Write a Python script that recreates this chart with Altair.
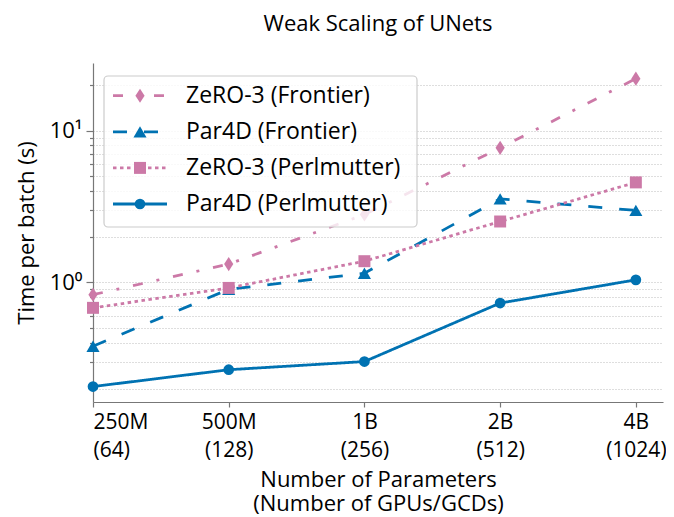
import json
import altair as alt
import pandas as pd

# ---- data ----
x_params = ["250M", "500M", "1B", "2B", "4B"]
x_gpus = ["(64)", "(128)", "(256)", "(512)", "(1024)"]
x_index = [0, 1, 2, 3, 4]

series = ["ZeRO-3 (Frontier)", "Par4D (Frontier)", "ZeRO-3 (Perlmutter)", "Par4D (Perlmutter)"]
zero3_frontier = [0.83, 1.32, 2.8, 7.7, 22.0]
par4d_frontier = [0.38, 0.90, 1.15, 3.55, 2.98]
zero3_perlmutter = [0.68, 0.92, 1.38, 2.52, 4.56]
par4d_perlmutter = [0.206, 0.266, 0.301, 0.731, 1.04]
values = [zero3_frontier, par4d_frontier, zero3_perlmutter, par4d_perlmutter]

y_grid_values = [0.2, 0.3, 0.4, 0.5, 0.6, 0.7, 0.8, 0.9, 1, 2, 3, 4, 5, 6, 7, 8, 9, 10, 20]

# ---- styles ----
colors = ["#cc79a7", "#0072b2", "#cc79a7", "#0072b2"]
dashes = [[10, 14, 3, 14], [14, 17], [3.5, 3.5], [1, 0]]
thin_diamond = "M0,-1L0.65,0L0,1L-0.65,0Z"
shapes = [thin_diamond, "triangle-up", "square", "circle"]
sizes = [200, 115, 95, 75]
FONT = "Open Sans"

rows = []
for s, vals in zip(series, values):
    for i, v in zip(x_index, vals):
        rows.append({"series": s, "x": i, "t": v})
df = pd.DataFrame(rows)
legend_df = pd.DataFrame({"series": series})
box_df = pd.DataFrame({"k": [0]})

color_enc = alt.Color("series:N", scale=alt.Scale(domain=series, range=colors), legend=None)
dash_enc = alt.StrokeDash("series:N", scale=alt.Scale(domain=series, range=dashes), legend=None)
shape_enc = alt.Shape("series:N", scale=alt.Scale(domain=series, range=shapes), legend=None)
size_enc = alt.Size("series:N", scale=alt.Scale(domain=series, range=sizes), legend=None)

label_expr = f"[{json.dumps(x_params)}[datum.value], {json.dumps(x_gpus)}[datum.value]]"

x_enc = alt.X(
    "x:Q",
    scale=alt.Scale(domain=[0, 4.2], nice=False, zero=False),
    axis=alt.Axis(
        values=x_index,
        labelExpr=label_expr,
        title=["Number of Parameters", "(Number of GPUs/GCDs)"],
        grid=False,
        tickSize=5,
        labelPadding=4,
        labelLineHeight=28,
        labelFontSize=21,
        titleFontSize=22,
        titleLineHeight=24,
        titlePadding=9,
        titleFontWeight="normal",
    ),
)
y_enc = alt.Y(
    "t:Q",
    scale=alt.Scale(type="log", domain=[0.163, 27.9], nice=False),
    axis=alt.Axis(
        values=y_grid_values,
        labelExpr="datum.value == 1 ? '10⁰' : (datum.value == 10 ? '10¹' : '')",
        labelOverlap=False,
        title="Time per batch (s)",
        tickSize={"condition": {"test": "datum.value == 1 || datum.value == 10", "value": 7}, "value": 3.5},
        labelPadding=4,
        labelFontSize=22,
        titleFontSize=22,
        titleFontWeight="normal",
        titlePadding=11,
        grid=True,
        gridDash=[1, 2],
        gridColor="#b5b5b5",
        gridWidth=0.9,
    ),
)

base = alt.Chart(df)
lines = base.mark_line(strokeWidth=2.8).encode(x=x_enc, y=y_enc, color=color_enc, strokeDash=dash_enc)
points = base.mark_point(filled=True, opacity=1).encode(
    x="x:Q", y="t:Q", color=color_enc, shape=shape_enc, size=size_enc
)

# ---- legend ----
box = alt.Chart(box_df).mark_rect(
    fill="white", fillOpacity=0.8, stroke="#cccccc", strokeWidth=1.2, cornerRadius=4
).encode(x=alt.value(11), x2=alt.value(324), y=alt.value(13), y2=alt.value(164))

leg_y = alt.Y("series:N", scale=alt.Scale(type="point", domain=series, range=[32.7, 141], padding=0), axis=None)
leg_base = alt.Chart(legend_df)
leg_lines = leg_base.mark_rule(strokeWidth=2.8).encode(
    x=alt.value(20), x2=alt.value(74), y=leg_y, color=color_enc, strokeDash=dash_enc
)
leg_pts = leg_base.mark_point(filled=True, opacity=1).encode(
    x=alt.value(47), y=leg_y, color=color_enc, shape=shape_enc, size=size_enc
)
leg_text = leg_base.mark_text(align="left", baseline="middle", fontSize=23, font=FONT, color="black").encode(
    x=alt.value(93), y=leg_y, text="series:N"
)
legend_layer = alt.layer(leg_lines, leg_pts, leg_text)

data_layer = alt.layer(lines, points)

chart = (
    alt.layer(data_layer, box, legend_layer)
    .resolve_scale(y="independent")
    .properties(
        width=570,
        height=339,
        autosize=alt.AutoSizeParams(type="none"),
        padding={"left": 85, "top": 55, "right": 3, "bottom": 113},
        title=alt.TitleParams(
            "Weak Scaling of UNets", fontSize=22, fontWeight="normal", font=FONT,
            anchor="middle", offset=27, color="black",
        ),
    )
    .configure_view(stroke=None)
    .configure_axis(
        labelFont=FONT, titleFont=FONT, labelColor="black", titleColor="black",
        domainColor="#777777", tickColor="#777777", domainWidth=1.2, tickWidth=1.2,
    )
)

chart.save("out.html", embed_options={"renderer": "svg", "actions": False})
